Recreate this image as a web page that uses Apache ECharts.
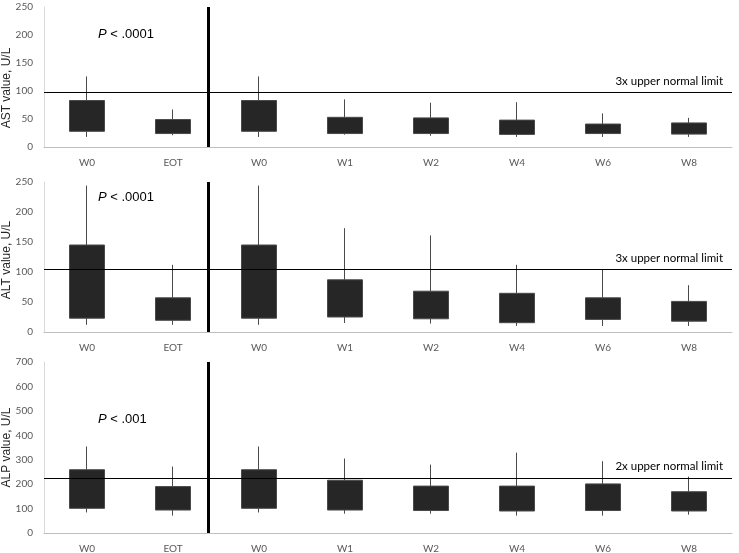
<!DOCTYPE html>
<html>
<head>
<meta charset="utf-8">
<script src="https://cdn.jsdelivr.net/npm/echarts@6/dist/echarts.min.js"></script>
<style>html,body{margin:0;padding:0;background:#fff;}#c{width:739px;height:553px;}</style>
</head>
<body>
<div id="c"></div>
<script>
const categories = ['W0', 'EOT', 'W0', 'W1', 'W2', 'W4', 'W6', 'W8'];

const astQ1  = [28, 24, 28, 24, 24, 22.5, 24, 23];
const astQ3  = [83, 49, 83, 53, 52, 48, 41, 43];
const astMin = [18, 21, 18, 22, 20, 18, 18, 18];
const astMax = [126, 67, 126, 85, 79, 80, 60, 52];

const altQ1  = [23, 19.5, 23, 25, 22, 15.5, 21, 18];
const altQ3  = [145, 57, 145, 87, 68, 64.5, 57, 51];
const altMin = [12, 12, 12, 15, 14, 10, 10, 10];
const altMax = [244, 112, 244, 173, 161, 112, 105, 78];

const alpQ1  = [101, 94, 101, 94, 92, 90, 92, 90];
const alpQ3  = [259, 190, 259, 216, 192, 192, 201, 169];
const alpMin = [84, 71, 84, 79, 79, 71, 71, 75];
const alpMax = [354, 272, 354, 305, 280, 329, 294, 231];

const refValues = [98, 105, 226];
const refLabels = ['3x upper normal limit', '3x upper normal limit', '2x upper normal limit'];
const yNames = ['AST value, U/L', 'ALT value, U/L', 'ALP value, U/L'];
const yMax = [250, 250, 700];
const yInterval = [50, 50, 100];
const pTexts = ['.0001', '.0001', '.001'];

const SEP_X = 1.91; // separator between EOT and follow-up W0 (hidden axis units, 0..8)

const grids = [
  {left: 44, right: 7, top: 7, height: 140, containLabel: false, outerBoundsMode: 'none'},
  {left: 44, right: 7, top: 182, height: 150, containLabel: false, outerBoundsMode: 'none'},
  {left: 44, right: 7, top: 362, height: 171, containLabel: false, outerBoundsMode: 'none'}
];
const namePads = [[0, 22, 0, 0], [0, 6, 0, 0], [0, 0, 0, 0]];

function toCandle(q1, q3, mn, mx) {
  return q1.map((v, i) => [v, q3[i], mn[i], mx[i]]);
}
const panels = [
  toCandle(astQ1, astQ3, astMin, astMax),
  toCandle(altQ1, altQ3, altMin, altMax),
  toCandle(alpQ1, alpQ3, alpMin, alpMax)
];

const labelFont = 'Lato, "Open Sans", sans-serif';
const xAxes = [], yAxes = [], series = [];
for (let i = 0; i < 3; i++) {
  xAxes.push({
    type: 'category', gridIndex: i, data: categories,
    axisLine: {onZero: false, lineStyle: {color: '#bfbfbf', width: 1}},
    axisTick: {show: false},
    axisLabel: {color: '#595959', fontSize: 10, fontFamily: labelFont, margin: 11}
  });
  yAxes.push({
    type: 'value', gridIndex: i, min: 0, max: yMax[i], interval: yInterval[i],
    name: yNames[i], nameLocation: 'middle', nameGap: 31, nameMoveOverlap: false,
    nameTextStyle: {color: '#262626', fontSize: 12, fontFamily: '"Liberation Sans", Arial, sans-serif', padding: namePads[i]},
    axisLine: {show: true, onZero: false, lineStyle: {color: '#d9d9d9'}},
    axisTick: {show: false},
    splitLine: {show: false},
    axisLabel: {color: '#595959', fontSize: 10, fontFamily: labelFont, margin: 11}
  });
}
for (let i = 0; i < 3; i++) {
  xAxes.push({type: 'value', gridIndex: i, min: 0, max: 8, show: false,
    axisLine: {onZero: false}, splitLine: {show: false}});
}
for (let i = 0; i < 3; i++) {
  series.push({
    type: 'candlestick', xAxisIndex: i, yAxisIndex: i,
    data: panels[i], barWidth: 36,
    itemStyle: {color: '#262626', color0: '#262626', borderColor: '#4a4a4a', borderColor0: '#4a4a4a', borderWidth: 1},
    markLine: {
      silent: true, symbol: 'none', animation: false,
      lineStyle: {color: '#000', width: 1, type: 'solid'},
      label: {
        show: true, position: 'insideEndTop', formatter: refLabels[i],
        color: '#000', fontSize: 11.5, fontFamily: labelFont, distance: [9, 5]
      },
      data: [{yAxis: refValues[i]}]
    }
  });
  series.push({
    type: 'line', xAxisIndex: 3 + i, yAxisIndex: i, data: [],
    markLine: {
      silent: true, symbol: 'none', animation: false,
      lineStyle: {color: '#000', width: 3, type: 'solid'},
      label: {show: false},
      data: [{xAxis: SEP_X}]
    }
  });
}

const pY = [36, 199, 421];
const graphic = pTexts.map((t, i) => ({
  type: 'text', left: 98, top: pY[i] - 8,
  style: {
    text: '{i|P} < ' + t,
    rich: {i: {fontStyle: 'italic', fontSize: 13, fontFamily: '"Liberation Sans", Arial, sans-serif', fill: '#000'}},
    fontSize: 13, fontFamily: '"Liberation Sans", Arial, sans-serif', fill: '#000'
  }
}));

const chart = echarts.init(document.getElementById('c'));
chart.setOption({
  animation: false,
  grid: grids,
  xAxis: xAxes,
  yAxis: yAxes,
  series: series,
  graphic: graphic
});
</script>
</body>
</html>
